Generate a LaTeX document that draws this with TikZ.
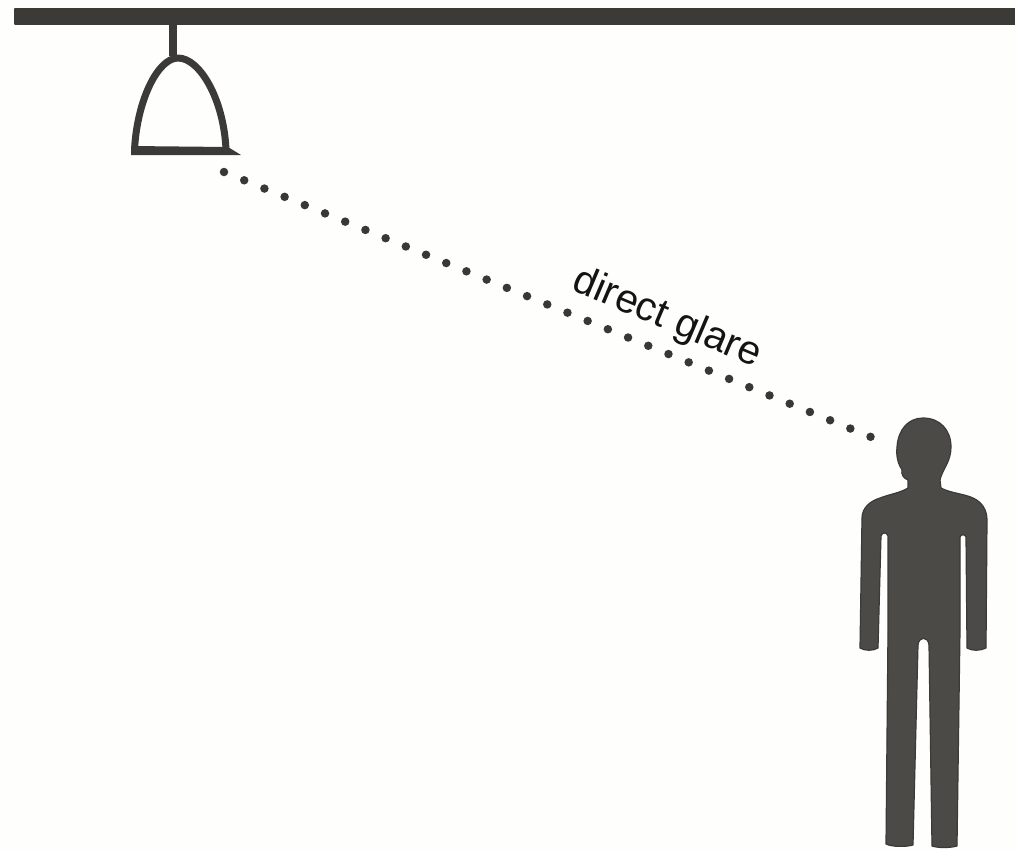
\documentclass[tikz,border=0pt]{standalone}
\usepackage{fontspec}
\setmainfont{Liberation Sans}
\usetikzlibrary{positioning,calc}
\definecolor{paper}{HTML}{FEFEFC}
\definecolor{inkdark}{HTML}{3C3A37}
\definecolor{inkbody}{HTML}{4C4A47}

\begin{document}
\begin{tikzpicture}[
    x=0.01cm, y=-0.01cm,
    ink/.style={draw=inkdark, line width=0.07cm, line join=round},
    solid ink/.style={fill=#1, draw=inkdark, line width=0.012cm, line join=round},
    glare/.style={draw=black!78, line width=0.085cm, line cap=round, dash pattern=on 0pt off 0.2182cm},
    lbl/.style={font=\fontsize{11.5}{13}\selectfont, text=black!92, inner sep=0pt},
  ]
  \useasboundingbox[fill=paper] (0,0) rectangle (1015,851);

  % ceiling and lamp
  \fill[solid ink=inkdark] (15,9) rectangle (1015,24);
  \draw[ink] (173,24) -- (173,56);
  \draw[ink] (134.5,150) .. controls (137,100) and (158,58) .. (178,58)
    .. controls (200,58) and (224,100) .. (226,150);
  \fill[inkdark] (131,146) -- (228,147) -- (241,155) -- (131,155) -- cycle;

  % line of sight
  \coordinate (glarestart) at (224,172);
  \coordinate (glareend) at (871,437);
  \draw[glare] (glarestart) -- (glareend);
  \node[lbl, rotate=-23] (glarelabel) at (667,319) {direct glare};

  % figure
  \fill[solid ink=inkbody] (923,418) .. controls (940,418) and (951,430) .. (951,447)
    .. controls (951,462) and (942,470) .. (940,480) -- (941,488)
    .. controls (950,493) and (965,494) .. (973,498)
    .. controls (982,502) and (987,510) .. (987,520)
    -- (986,648) .. controls (980,651) and (972,651) .. (967,648)
    -- (966,537) .. controls (965,534) and (961,534) .. (960,537)
    -- (960,630) -- (957,846) .. controls (950,848) and (938,848) .. (932,846)
    -- (929,645) .. controls (928,636) and (919,636) .. (918,645)
    -- (913,845) .. controls (906,847) and (892,847) .. (886,844)
    -- (888,630) -- (888,536) .. controls (887,532) and (882,532) .. (881,536)
    -- (878,648) .. controls (873,651) and (865,651) .. (860,648)
    -- (862,518) .. controls (862,508) and (870,501) .. (880,498)
    .. controls (890,494) and (900,493) .. (908,488) -- (908,480)
    .. controls (903,478) and (901,474) .. (902,470)
    .. controls (898,464) and (896,456) .. (897,447)
    .. controls (898,430) and (908,418) .. (923,418) -- cycle;
\end{tikzpicture}
\end{document}
